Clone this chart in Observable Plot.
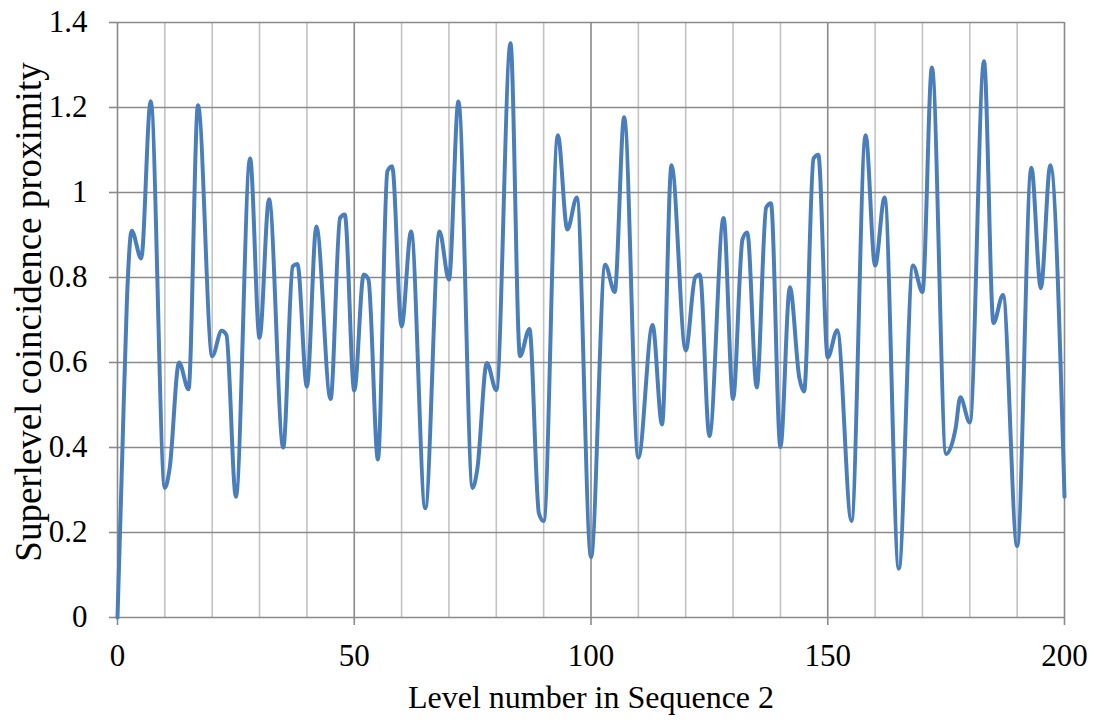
<!DOCTYPE html>
<html>
<head>
<meta charset="utf-8">
<script src="https://cdn.jsdelivr.net/npm/d3@7"></script>
<script src="https://cdn.jsdelivr.net/npm/@observablehq/plot@0.6"></script>
<style>
  html, body { margin: 0; padding: 0; background: #fff; }
  #chart { width: 1094px; height: 720px; }
</style>
</head>
<body>
<div id="chart"></div>
<script>
// Level numbers (x) and superlevel coincidence proximity (y)
const levels = [0,1,2,3,5,7,10,11,13,15,17,20,22,23,25,28,30,32,35,37,38,40,42,45,47,48,50,52,53,55,57,58,60,62,65,68,70,72,75,76,78,80,83,85,87,89,90,93,95,97,100,103,105,107,110,113,115,117,120,122,123,125,128,130,132,133,135,137,138,140,142,144,145,147,148,150,152,155,158,160,162,165,168,170,172,175,177,178,180,183,185,187,190,193,195,197,200];
const proximity = [0,0.38,0.75,0.91,0.845,1.215,0.305,0.35,0.60,0.537,1.205,0.615,0.675,0.665,0.284,1.08,0.658,0.984,0.40,0.826,0.832,0.543,0.92,0.514,0.94,0.948,0.534,0.807,0.795,0.372,1.05,1.062,0.685,0.908,0.257,0.908,0.795,1.214,0.305,0.35,0.599,0.535,1.351,0.615,0.679,0.245,0.227,1.135,0.913,0.988,0.142,0.83,0.766,1.177,0.376,0.688,0.454,1.064,0.628,0.80,0.807,0.427,0.94,0.514,0.89,0.906,0.541,0.965,0.975,0.401,0.777,0.564,0.532,1.08,1.089,0.612,0.676,0.227,1.135,0.828,0.988,0.115,0.828,0.766,1.294,0.385,0.445,0.518,0.459,1.309,0.693,0.759,0.168,1.058,0.775,1.064,0.284];

const xMajorTicks = [0, 50, 100, 150, 200];
const xMinorGrid = [10,20,30,40,60,70,80,90,110,120,130,140,160,170,180,190];
const yTicks = [0, 0.2, 0.4, 0.6, 0.8, 1, 1.2, 1.4];
const yTickLabels = ["0", "0.2", "0.4", "0.6", "0.8", "1", "1.2", "1.4"];
const xLabel = "Level number in Sequence 2";
const yLabel = "Superlevel coincidence proximity";

const data = levels.map((x, i) => ({x, y: proximity[i]}));

const plot = Plot.plot({
  width: 1094,
  height: 720,
  marginLeft: 117,
  marginRight: 30,
  marginTop: 22,
  marginBottom: 103,
  style: {fontFamily: "'Liberation Serif', 'Times New Roman', serif", fontSize: "31px", color: "#000", background: "#fff"},
  x: {domain: [0, 200]},
  y: {domain: [0, 1.4]},
  marks: [
    Plot.ruleX(xMinorGrid, {stroke: "#c3c3c3", strokeWidth: 1.6}),
    Plot.ruleY(yTicks, {stroke: "#8a8a8a", strokeWidth: 1.6}),
    Plot.ruleX(xMajorTicks, {stroke: "#8a8a8a", strokeWidth: 1.6}),
    Plot.axisX({ticks: xMajorTicks, tickSize: 8, tickPadding: 18, stroke: "#8a8a8a", strokeWidth: 1.6, fill: "#000", label: null, tickFormat: d => String(d)}),
    Plot.axisY({ticks: yTicks, tickSize: 8, tickPadding: 22, stroke: "#8a8a8a", strokeWidth: 1.6, fill: "#000", label: null, tickFormat: d => yTickLabels[yTicks.indexOf(d)]}),
    Plot.text([xLabel], {frameAnchor: "bottom", dy: 90, fontSize: 32, fill: "#000", textAnchor: "middle", text: d => d}),
    Plot.text([yLabel], {frameAnchor: "left", dx: -88, dy: -8, rotate: -90, fontSize: 37, fill: "#000", textAnchor: "middle", text: d => d}),
    Plot.line(data, {x: "x", y: "y", curve: "monotone-x", stroke: "#4a7ebb", strokeWidth: 4, strokeLinejoin: "round", strokeLinecap: "round"})
  ]
});
document.getElementById("chart").appendChild(plot);
</script>
</body>
</html>
